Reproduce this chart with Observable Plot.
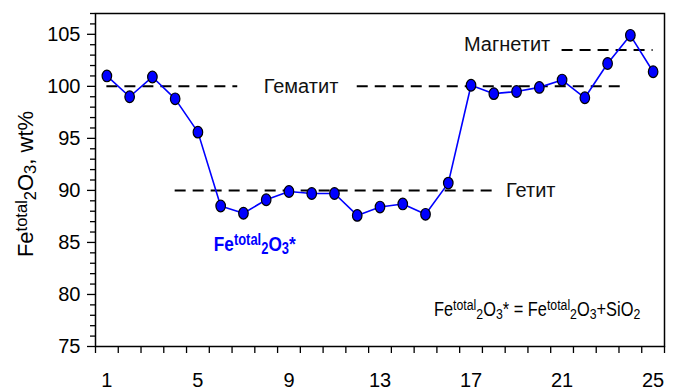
<!DOCTYPE html>
<html><head><meta charset="utf-8">
<script src="https://cdn.jsdelivr.net/npm/d3@7"></script>
<script src="https://cdn.jsdelivr.net/npm/@observablehq/plot@0.6"></script>
<style>
html,body{margin:0;padding:0;background:#fff;}
#chart svg{display:block;}
</style></head><body><div id="chart"></div>
<script>
// ---- data ----
const samples = [1,2,3,4,5,6,7,8,9,10,11,12,13,14,15,16,17,18,19,20,21,22,23,24,25];
const feTotal = [101.0, 99.0, 100.9, 98.8, 95.6, 88.5, 87.8, 89.1, 89.9, 89.7, 89.7, 87.6, 88.4, 88.7, 87.7, 90.7, 100.1, 99.3, 99.5, 99.9, 100.6, 98.9, 102.2, 104.9, 101.4];

// reference (mineral) levels, drawn as dashed segments
const refValues = [100, 100, 90, 103.5];
const refFrom   = [1, 12.0, 4, 21];
const refTo     = [6.75, 23.8, 18, 25];

// mineral labels
const mineralNames  = ["Гематит", "Гетит", "Магнетит"];
const mineralX      = [9.53, 18.54, 16.69];
const mineralY      = [100, 90, 104.05];
const mineralAnchor = ["middle", "start", "start"];

// tick labels
const xTickLabels = [1, 5, 9, 13, 17, 21, 25];
const yTickLabels = [75, 80, 85, 90, 95, 100, 105];

const yAxisTitle = "Fe^{total}_{2}O_{3}, wt%";
const seriesName = "Fe^{total}_{2}O_{3}*";
const formulaText = "Fe^{total}_{2}O_{3}* = Fe^{total}_{2}O_{3}+SiO_{2}";

// ---- tables ----
const data = samples.map((s, i) => ({sample: s, value: feTotal[i]}));
const refs = refValues.map((v, i) => ({value: v, from: refFrom[i], to: refTo[i]}));
const minerals = mineralNames.map((n, i) => ({name: n, x: mineralX[i], y: mineralY[i], anchor: mineralAnchor[i]}));
const xMinor = d3.range(0.5, 26, 1);
const yMinor = d3.range(75, 108, 1).filter(v => !yTickLabels.includes(v));

const ellipse = {
  draw(ctx, size) {
    const r = Math.sqrt(size / Math.PI), rx = r * 0.9, ry = r * 1.1, kx = rx * 0.5523, ky = ry * 0.5523;
    ctx.moveTo(rx, 0);
    ctx.bezierCurveTo(rx, ky, kx, ry, 0, ry);
    ctx.bezierCurveTo(-kx, ry, -rx, ky, -rx, 0);
    ctx.bezierCurveTo(-rx, -ky, -kx, -ry, 0, -ry);
    ctx.bezierCurveTo(kx, -ry, rx, -ky, rx, 0);
    ctx.closePath();
  }
};

const chart = Plot.plot({
  width: 673,
  height: 392,
  marginLeft: 95,
  marginRight: 9,
  marginTop: 13,
  marginBottom: 46,
  style: {fontFamily: "'Liberation Sans', Arial, sans-serif", fontSize: "20px", background: "#fff", color: "#000"},
  x: {domain: [0.5, 25.5]},
  y: {domain: [75, 107]},
  marks: [
    Plot.axisY({ticks: yMinor, tickSize: 5, tickFormat: () => "", label: null, strokeWidth: 1.3}),
    Plot.axisY({ticks: yTickLabels, tickSize: 8, tickPadding: 7, label: null, strokeWidth: 1.3, fontSize: 20}),
    Plot.axisX({ticks: xMinor, tickSize: 7, tickFormat: () => "", label: null, strokeWidth: 1.3}),
    Plot.axisX({ticks: xTickLabels, tickSize: 0, tickPadding: 26, label: null, fontSize: 20}),
    Plot.ruleY(refs, {y: "value", x1: "from", x2: "to", stroke: "#000", strokeWidth: 2, strokeDasharray: "11,7"}),
    Plot.line(data, {x: "sample", y: "value", stroke: "#0000ff", strokeWidth: 1.6}),
    Plot.dot(data, {x: "sample", y: "value", symbol: ellipse, r: 5.3, fill: "#0000ff", stroke: "#000", strokeWidth: 1.2}),
    Plot.text(minerals.filter(d => d.anchor === "middle"), {x: "x", y: "y", text: "name", textAnchor: "middle", fontSize: 20, fill: "#111"}),
    Plot.text(minerals.filter(d => d.anchor === "start"), {x: "x", y: "y", text: "name", textAnchor: "start", fontSize: 20, fill: "#111"}),
    Plot.text([seriesName], {x: 5.70, y: 84.86, text: d => d, textAnchor: "start", fontSize: 21, fontWeight: "bold", fill: "#0000ff"}),
    Plot.text([formulaText], {x: 15.37, y: 78.55, text: d => d, textAnchor: "start", fontSize: 20, fill: "#000"}),
    Plot.text([yAxisTitle], {frameAnchor: "left", textAnchor: "middle", rotate: -90, dx: -69.6, dy: 4, text: d => d, fontSize: 22, fill: "#000"}),
    Plot.frame({stroke: "#000", strokeWidth: 1.5})
  ]
});
document.getElementById("chart").appendChild(chart);

const narrow = [];
chart.querySelectorAll("text").forEach(t => {
  if (t.textContent === seriesName || t.textContent === formulaText) narrow.push(t);
});

// superscript / subscript markup
chart.querySelectorAll("text").forEach(t => {
  const s = t.textContent;
  if (!/[\^_]\{/.test(s)) return;
  const fs = parseFloat(getComputedStyle(t).fontSize) || 20;
  const parts = s.match(/\^\{[^}]*\}|_\{[^}]*\}|[^\^_]+/g);
  t.textContent = "";
  let cur = 0;
  for (const p of parts) {
    let kind = 0, txt = p;
    if (p.startsWith("^{")) { kind = -1; txt = p.slice(2, -1); }
    else if (p.startsWith("_{")) { kind = 1; txt = p.slice(2, -1); }
    const shift = kind === -1 ? -0.28 * fs : kind === 1 ? 0.14 * fs : 0;
    const ts = document.createElementNS("http://www.w3.org/2000/svg", "tspan");
    ts.setAttribute("dy", (shift - cur).toFixed(2));
    cur = shift;
    if (kind) ts.setAttribute("font-size", (fs * 0.75).toFixed(2));
    ts.textContent = txt;
    t.appendChild(ts);
  }
});

// narrow-font emulation (condensed glyphs, anchored at the text start)
narrow.forEach(t => {
  const b = t.getBBox();
  const x0 = b.x;
  const tr = t.getAttribute("transform") || "";
  t.setAttribute("transform", `${tr} translate(${x0},0) scale(0.82,1) translate(${-x0},0)`.trim());
});
</script></body></html>
